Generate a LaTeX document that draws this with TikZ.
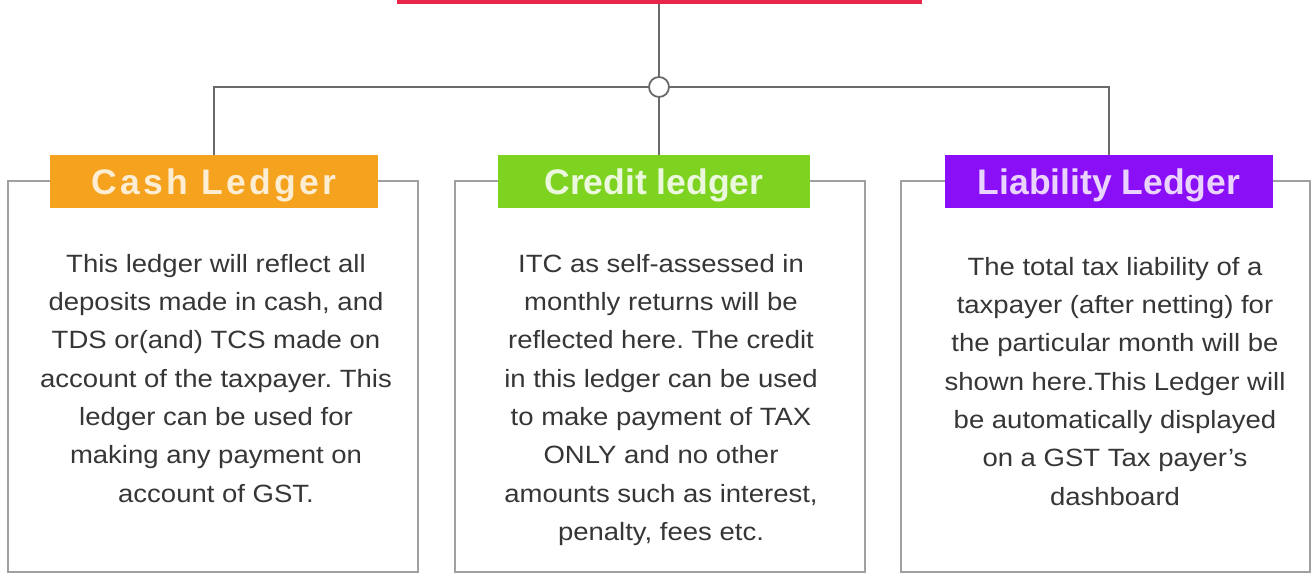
\documentclass[tikz,border=0pt]{standalone}
\usepackage{fontspec}
\usepackage{xcolor}
\setmainfont{Liberation Sans}
\newfontfamily\bodyfont[FakeStretch=1.1]{Liberation Sans}
\frenchspacing
\definecolor{topred}{HTML}{E8264A}
\definecolor{cashorange}{HTML}{F5A31F}
\definecolor{creditgreen}{HTML}{7ED321}
\definecolor{liabpurple}{HTML}{8A0FF7}
\definecolor{framegray}{HTML}{A0A0A0}
\definecolor{linegray}{HTML}{6A6A6A}
\definecolor{bodygray}{HTML}{363636}
\tikzset{
  frame/.style={draw=framegray,line width=2pt,minimum width=410pt,minimum height=391pt,inner sep=0},
  ledger/.style={fill=#1,minimum height=53pt,inner sep=0,text height=27pt,text depth=0pt,font=\fontsize{35.5}{40}\selectfont\bfseries},
  body/.style={anchor=north,inner sep=0,align=center,text=bodygray,font=\bodyfont\fontsize{25}{38.3}\selectfont\frenchspacing},
  conn/.style={draw=linegray,line width=1.8pt}
}

\begin{document}
\begin{tikzpicture}[x=1pt,y=-1pt]
\useasboundingbox (0,0) rectangle (1314,577);
\node[fill=topred,minimum width=525pt,minimum height=34pt,inner sep=0] (title) at (659,-13) {};
\node[circle,draw=linegray,fill=white,line width=1.8pt,minimum size=20pt,inner sep=0] (hub) at (659,87) {};
\node[frame] (cashbox) at (213,376.5) {};
\node[frame] (creditbox) at (660,376.5) {};
\node[frame,minimum width=409pt] (liabbox) at (1105.5,376.5) {};
\node[ledger=cashorange,minimum width=328pt,text=white!80!cashorange] (cash) at (214,181.5) {\addfontfeature{LetterSpace=9.5}Cash Ledger};
\node[ledger=creditgreen,minimum width=312pt,text=white!85!creditgreen] (credit) at (654,181.5) {Credit ledger};
\node[ledger=liabpurple,minimum width=328pt,text=white!82!liabpurple] (liab) at (1109,181.5) {Liability Ledger};
\draw[conn] (title.south) -- (hub.north);
\draw[conn] (hub.west) -| (cash.north);
\draw[conn] (hub.east) -| (liab.north);
\draw[conn] (hub.south) -- (hub.south |- credit.north);
\node[body] (cashtext) at (216,254) {This ledger will reflect all\\deposits made in cash, and\\TDS or(and) TCS made on\\account of the taxpayer. This\\ledger can be used for\\making any payment on\\account of GST.};
\node[body] (credittext) at (661,254) {ITC as self-assessed in\\monthly returns will be\\reflected here. The credit\\in this ledger can be used\\to make payment of TAX\\ONLY and no other\\amounts such as interest,\\penalty, fees etc.};
\node[body] (liabtext) at (1115,257) {The total tax liability of a\\taxpayer (after netting) for\\the particular month will be\\shown here.This Ledger will\\be automatically displayed\\on a GST Tax payer’s\\dashboard};
\end{tikzpicture}
\end{document}
